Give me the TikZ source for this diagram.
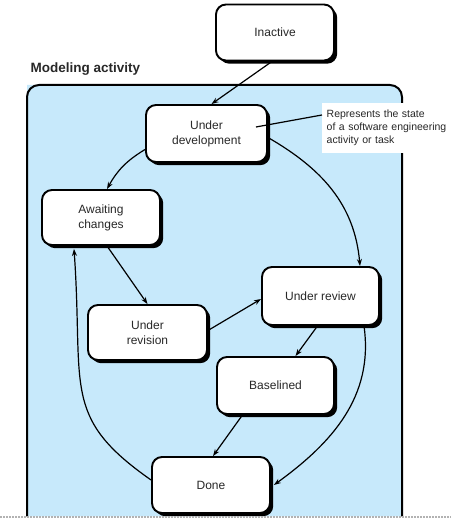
\documentclass[tikz,border=0pt]{standalone}
\usepackage{fontspec}
\setmainfont{Liberation Sans}
\usetikzlibrary{shadows,arrows.meta}
\definecolor{panelblue}{RGB}{199,233,251}
\definecolor{txt}{RGB}{40,40,40}
\begin{document}
\begin{tikzpicture}[x=1pt,y=1pt,
  state/.style={draw=black,line width=1.9pt,rounded corners=10pt,fill=white,
    minimum width=118pt,minimum height=56pt,align=center,text=txt,
    font=\fontsize{12}{15}\selectfont,
    drop shadow={shadow xshift=3.2pt,shadow yshift=-3.2pt,fill=black,opacity=1,shadow scale=1}},
  arr/.style={line width=1.2pt,-{Stealth[length=7pt,width=5pt]}}
]
\useasboundingbox (0,0) rectangle (451,518);
% container
\fill[panelblue] (27,1.5) -- (27,433) [rounded corners=10pt]-- (402,433) [sharp corners]-- (402,1.5) -- cycle;
\draw[line width=2pt] (27,1.5) -- (27,421) arc[start angle=180,end angle=90,radius=12] -- (390,433) arc[start angle=90,end angle=0,radius=12] -- (402,1.5);
\node[anchor=base west,font=\bfseries\fontsize{13.5}{16}\selectfont,text=txt] (title) at (27,445) {Modeling activity};
% states
\node[state] (inactive) at (275,485.5) {Inactive};
\node[state,minimum width=121pt,minimum height=57pt] (dev) at (206.5,384.5) {Under\\development};
\node[state,minimum height=55pt] (await) at (101,300.5) {Awaiting\\changes};
\node[state,minimum width=119pt,minimum height=55pt] (revision) at (147.5,185.5) {Under\\revision};
\node[state,minimum width=117pt,minimum height=58pt] (review) at (320.5,222) {Under review};
\node[state,minimum width=117pt,minimum height=57pt] (baselined) at (275.5,132.5) {Baselined};
\node[state] (done) at (211,33) {Done};
% callout
\node[anchor=north west,fill=white,minimum width=129pt,minimum height=50pt,inner xsep=4.5pt,inner ysep=4pt,
  align=left,text=txt,font=\fontsize{10.5}{13}\selectfont,text width=124pt] (note) at (322,415)
  {Represents the state\\of a software engineering\\activity or task};
\coordinate (notept) at ([xshift=-12pt,yshift=6.5pt]dev.east);
\draw[line width=1.2pt] (notept) -- ([yshift=-12pt]note.north west);
% transitions
\draw[arr] ([xshift=-3pt]inactive.south) -- ([xshift=5pt]dev.north);
\draw[arr] ([yshift=-16pt]dev.west) to[bend right=15] ([xshift=6pt]await.north);
\draw[arr] ([yshift=-4pt]dev.east) to[out=-30,in=95] ([xshift=39.5pt]review.north);
\draw[arr] ([xshift=6pt]await.south) -- (revision.north);
\draw[arr] ([yshift=2pt]revision.east) -- ([yshift=-3pt]review.west);
\draw[arr] ([xshift=-3pt]review.south) -- ([xshift=20pt]baselined.north);
\draw[arr] ([xshift=-33pt]baselined.south) -- ([xshift=2pt]done.north);
\draw[arr] ([xshift=43.5pt]review.south) to[out=-82,in=36] ([xshift=3pt]done.east);
\draw[arr] ([yshift=5pt]done.west) .. controls +(145:110) and +(-86:140) .. ([xshift=-27pt,yshift=-3pt]await.south);
% bottom cut
\draw[gray!60,line width=1.5pt,dash pattern=on 1.5pt off 1.5pt] (0,1) -- (451,1);
\end{tikzpicture}
\end{document}
